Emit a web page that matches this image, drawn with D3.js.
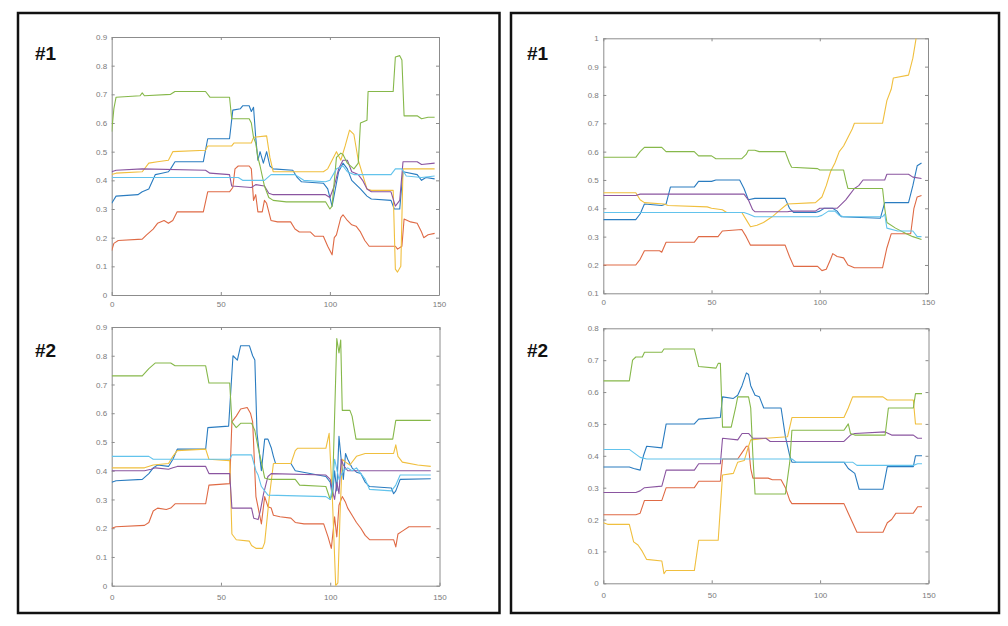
<!DOCTYPE html>
<html><head><meta charset="utf-8">
<script src="https://cdn.jsdelivr.net/npm/d3@7"></script>
<style>body{margin:0;background:#fff}svg{display:block}</style>
</head><body>
<svg id="c" width="1008" height="626"></svg>
<script>
// ---------- DATA (x = sample index, y = value) ----------
const xTicks = [0, 50, 100, 150];
const L1_yTicks = [0,0.1,0.2,0.3,0.4,0.5,0.6,0.7,0.8,0.9];
const L2_yTicks = [0,0.1,0.2,0.3,0.4,0.5,0.6,0.7,0.8,0.9];
const R1_yTicks = [0.1,0.2,0.3,0.4,0.5,0.6,0.7,0.8,0.9,1];
const R2_yTicks = [0,0.1,0.2,0.3,0.4,0.5,0.6,0.7,0.8];
const panelLabels = ["#1", "#2", "#1", "#2"];

// Left #1
const L1_blue = [[0,0.32],[2,0.345],[12,0.35],[14,0.36],[17,0.37],[20,0.42],[23,0.425],[26,0.43],[27,0.44],[29,0.465],[42,0.465],[44,0.545],[54,0.545],[55.5,0.645],[59,0.65],[60,0.66],[63,0.66],[64,0.64],[65,0.655],[66,0.55],[67,0.47],[68,0.5],[69.5,0.46],[71,0.5],[72.5,0.45],[74,0.44],[83,0.435],[85,0.41],[87,0.395],[97,0.39],[99,0.37],[101,0.31],[102,0.35],[104,0.43],[106,0.46],[108,0.44],[110,0.40],[114,0.37],[117,0.345],[119,0.335],[128,0.33],[129.5,0.30],[132,0.30],[133.5,0.43],[140,0.42],[142,0.40],[144,0.41],[148,0.405]];
const L1_red = [[0,0.155],[1,0.18],[3,0.19],[14,0.195],[16,0.21],[19,0.23],[21,0.25],[24,0.26],[26,0.25],[28,0.26],[30,0.29],[42,0.29],[44,0.36],[54,0.36],[55.5,0.375],[56.5,0.44],[58,0.45],[63,0.45],[64,0.44],[65,0.33],[66,0.35],[67,0.29],[69,0.29],[70,0.33],[71,0.32],[73,0.26],[76,0.255],[82,0.255],[84,0.23],[86,0.22],[91,0.22],[93,0.205],[97,0.205],[99,0.17],[101,0.14],[102,0.2],[103,0.21],[105,0.27],[106,0.28],[108,0.26],[110,0.245],[112,0.24],[114,0.22],[116,0.19],[118,0.17],[130,0.17],[131,0.16],[133,0.17],[134,0.265],[137,0.255],[140,0.25],[142,0.22],[143,0.2],[145,0.21],[148,0.215]];
const L1_yellow = [[0,0.42],[2,0.425],[14,0.43],[17,0.46],[21,0.465],[26,0.47],[28,0.5],[43,0.505],[44,0.52],[55,0.52],[56,0.53],[64,0.53],[65,0.55],[71,0.555],[72.5,0.48],[74,0.43],[97,0.43],[99,0.44],[101,0.47],[103,0.5],[105,0.47],[107,0.52],[109,0.575],[111,0.56],[113,0.47],[115,0.42],[117,0.37],[119,0.365],[129,0.365],[130,0.09],[131,0.08],[132.5,0.1],[133.5,0.44],[148,0.44]];
const L1_purple = [[0,0.43],[2,0.435],[14,0.44],[43,0.435],[45,0.425],[54,0.42],[55,0.38],[64,0.375],[66,0.385],[70,0.38],[72,0.355],[74,0.35],[98,0.35],[100,0.34],[102,0.38],[104,0.44],[106,0.47],[108,0.47],[110,0.43],[113,0.42],[115,0.40],[117,0.37],[119,0.36],[128,0.36],[130,0.31],[132,0.33],[133.5,0.465],[140,0.465],[142,0.455],[148,0.46]];
const L1_green = [[0,0.57],[1,0.65],[2,0.69],[13,0.695],[14,0.705],[15,0.695],[27,0.70],[29,0.71],[43,0.71],[45,0.69],[54,0.69],[55,0.615],[63,0.615],[64,0.60],[65,0.55],[66,0.53],[67,0.48],[68,0.45],[70,0.38],[72,0.34],[74,0.33],[80,0.325],[98,0.325],[100,0.30],[101,0.31],[103,0.48],[105,0.495],[106,0.49],[108,0.46],[111,0.44],[113,0.46],[114,0.60],[117,0.61],[117.5,0.71],[129,0.71],[130,0.83],[132,0.835],[133,0.82],[134,0.625],[140,0.625],[142,0.615],[145,0.62],[148,0.62]];
const L1_cyan = [[0,0.41],[58,0.41],[60,0.40],[70,0.40],[73,0.42],[84,0.42],[88,0.40],[98,0.395],[100,0.40],[103,0.44],[106,0.45],[108,0.43],[111,0.42],[128,0.42],[130,0.44],[133,0.44],[135,0.415],[142,0.41],[148,0.415]];

// Left #2
const L2_blue = [[0,0.36],[2,0.365],[14,0.37],[17,0.39],[19,0.41],[21,0.42],[26,0.415],[28,0.44],[30,0.475],[43,0.475],[44,0.55],[53.5,0.555],[55.5,0.80],[57.5,0.785],[59,0.835],[63,0.835],[64.5,0.80],[65.5,0.785],[66.5,0.53],[68.5,0.40],[70,0.51],[71.5,0.51],[73,0.48],[74,0.45],[75,0.425],[82,0.425],[84,0.40],[98,0.38],[100,0.36],[101,0.31],[102,0.40],[103,0.33],[104,0.52],[105,0.44],[106,0.37],[107,0.46],[108,0.44],[110,0.41],[112,0.395],[114,0.39],[116,0.36],[118,0.345],[128,0.34],[129,0.32],[130,0.33],[132,0.37],[146,0.372]];
const L2_red = [[0,0.20],[2,0.205],[15,0.21],[17,0.22],[19,0.26],[21,0.27],[25,0.265],[27,0.27],[29,0.285],[43,0.285],[44.5,0.35],[54,0.355],[55,0.57],[57,0.59],[59,0.615],[62,0.62],[63.5,0.60],[64.5,0.57],[66,0.31],[68.5,0.215],[70,0.31],[71.5,0.275],[73,0.27],[74,0.245],[77,0.24],[82,0.235],[84,0.22],[88,0.215],[97,0.215],[99,0.17],[100.5,0.13],[102,0.24],[103,0.17],[104,0.28],[105.5,0.31],[107,0.29],[108,0.27],[110,0.245],[112,0.22],[114,0.20],[116,0.175],[118,0.16],[129,0.16],[130,0.135],[131,0.18],[133,0.19],[136,0.205],[146,0.205]];
const L2_yellow = [[0,0.41],[15,0.41],[19,0.42],[26,0.425],[28,0.45],[30,0.47],[43,0.475],[44.5,0.44],[54,0.435],[55,0.18],[57,0.16],[63,0.155],[64,0.14],[66,0.13],[69,0.13],[70,0.15],[72,0.3],[74,0.425],[82,0.425],[84,0.47],[85,0.478],[98,0.478],[99.5,0.53],[101,0.3],[102.5,0.0],[103.5,0.01],[104.5,0.25],[105.5,0.44],[107,0.43],[109,0.42],[112,0.45],[116,0.46],[129,0.46],[130,0.49],[131,0.45],[133,0.43],[140,0.42],[146,0.415]];
const L2_purple = [[0,0.40],[15,0.40],[18,0.405],[20,0.41],[26,0.405],[28,0.41],[30,0.415],[43,0.415],[44.5,0.39],[54,0.39],[55,0.27],[64,0.27],[65,0.235],[67,0.23],[68,0.26],[69.5,0.32],[71.5,0.38],[73,0.39],[98,0.385],[100,0.37],[101,0.33],[102,0.30],[103,0.36],[104,0.32],[105,0.44],[106,0.42],[108,0.40],[112,0.40],[146,0.40]];
const L2_green = [[0,0.73],[14,0.73],[17,0.755],[20,0.775],[27,0.775],[29,0.765],[43,0.765],[44.5,0.705],[54,0.705],[55,0.57],[57,0.55],[59,0.565],[64,0.565],[65.5,0.54],[67,0.48],[68.5,0.43],[70,0.375],[72,0.37],[84,0.37],[86,0.35],[98,0.345],[100,0.30],[101,0.32],[103,0.86],[104,0.81],[104.8,0.855],[105.5,0.61],[109,0.61],[110,0.59],[111.8,0.51],[128.6,0.51],[130,0.575],[146,0.575]];
const L2_cyan = [[0,0.45],[17,0.45],[19,0.44],[54,0.44],[55,0.455],[64,0.455],[66,0.40],[67,0.385],[68.5,0.345],[71.5,0.315],[98,0.31],[100,0.30],[101,0.34],[102,0.44],[104,0.37],[106,0.40],[108,0.41],[110,0.40],[112,0.41],[114,0.39],[116,0.37],[118,0.335],[128,0.33],[130,0.35],[132,0.385],[146,0.385]];

// Right #1
const R1_blue = [[0,0.36],[15,0.36],[17,0.38],[19,0.415],[27,0.41],[29,0.415],[31,0.475],[42,0.475],[44,0.495],[50,0.495],[52,0.50],[63,0.50],[65,0.47],[67,0.43],[70,0.435],[84,0.435],[86,0.40],[88,0.385],[98,0.385],[100,0.39],[102,0.40],[106,0.40],[108,0.39],[110,0.37],[128,0.365],[130,0.42],[141,0.42],[143,0.48],[145,0.55],[147,0.56]];
const R1_red = [[0,0.20],[15,0.20],[17,0.22],[19,0.25],[26,0.25],[27,0.245],[29,0.28],[42,0.28],[44,0.30],[53,0.30],[55,0.32],[64,0.325],[66,0.30],[68,0.27],[84,0.27],[86,0.23],[88,0.195],[99,0.195],[101,0.18],[103,0.185],[105,0.22],[106,0.24],[108,0.23],[111,0.225],[113,0.20],[116,0.19],[129,0.19],[131,0.26],[133,0.31],[142,0.31],[143.5,0.40],[145,0.44],[147,0.445]];
const R1_yellow = [[0,0.455],[15,0.455],[17,0.43],[19,0.42],[28,0.415],[30,0.41],[48,0.405],[50,0.40],[55,0.395],[57,0.385],[64,0.385],[66,0.36],[68,0.335],[71,0.34],[74,0.35],[78,0.37],[81,0.39],[85,0.415],[98,0.42],[101,0.44],[103,0.48],[105,0.53],[107,0.56],[109,0.60],[111,0.62],[113,0.65],[115,0.68],[116,0.70],[129,0.70],[131,0.78],[133,0.82],[134,0.86],[141,0.87],[143,0.93],[144.5,1.0]];
const R1_purple = [[0,0.445],[15,0.445],[17,0.45],[65,0.45],[67,0.43],[69,0.395],[70,0.388],[85,0.388],[87,0.39],[98,0.39],[100,0.40],[108,0.40],[110,0.415],[112,0.43],[114,0.45],[116,0.47],[118,0.48],[120,0.50],[130,0.50],[131,0.52],[141,0.52],[143,0.51],[147,0.505]];
const R1_green = [[0,0.58],[15,0.58],[17,0.60],[19,0.615],[27,0.615],[29,0.60],[42,0.60],[44,0.585],[50,0.585],[52,0.575],[64,0.575],[66,0.59],[67,0.605],[70,0.605],[72,0.60],[84,0.60],[86,0.56],[87,0.545],[99,0.54],[100,0.535],[111,0.535],[112,0.50],[113,0.47],[129,0.47],[130,0.40],[131,0.35],[135,0.33],[140,0.31],[143,0.30],[147,0.29]];
const R1_cyan = [[0,0.385],[65,0.385],[67,0.38],[70,0.37],[99,0.37],[101,0.375],[104,0.39],[107,0.39],[109,0.375],[111,0.37],[129,0.37],[130,0.38],[131,0.33],[136,0.32],[143,0.32],[145,0.30],[147,0.30]];

// Right #2
const R2_blue = [[0,0.365],[12,0.365],[14,0.36],[17,0.355],[18.5,0.40],[20,0.43],[27,0.425],[29,0.50],[42,0.50],[44,0.515],[54,0.52],[55,0.585],[60,0.58],[62,0.59],[64,0.62],[66,0.66],[67,0.655],[68,0.62],[70,0.59],[72,0.585],[74,0.55],[82,0.55],[84,0.46],[86,0.40],[87,0.38],[111,0.38],[113,0.36],[116,0.345],[118,0.295],[129,0.295],[131,0.366],[143,0.366],[144,0.40],[147,0.40]];
const R2_red = [[0,0.215],[15,0.215],[17,0.22],[19,0.26],[27,0.26],[29,0.30],[42,0.30],[44,0.32],[54,0.32],[55,0.39],[62,0.39],[64,0.41],[66,0.43],[67,0.43],[68,0.36],[69,0.33],[76,0.33],[78,0.325],[82,0.325],[84,0.30],[86,0.26],[87,0.25],[111,0.25],[113,0.22],[115,0.19],[117,0.16],[129,0.16],[131,0.19],[133,0.20],[135,0.22],[143,0.22],[145,0.24],[147,0.24]];
const R2_yellow = [[0,0.19],[2,0.185],[12,0.185],[14,0.13],[16,0.12],[18,0.10],[20,0.075],[27,0.07],[28,0.03],[29,0.04],[42,0.04],[44,0.135],[53,0.135],[55,0.34],[60,0.345],[62,0.38],[65,0.385],[67,0.43],[68,0.45],[75,0.455],[85,0.46],[87,0.52],[111,0.52],[113,0.55],[115,0.585],[129,0.585],[131,0.575],[143,0.575],[144,0.50],[147,0.50]];
const R2_purple = [[0,0.285],[15,0.285],[17,0.29],[19,0.30],[27,0.305],[29,0.355],[42,0.355],[44,0.375],[54,0.375],[55,0.455],[62,0.45],[64,0.47],[67,0.47],[69,0.455],[75,0.455],[77,0.445],[111,0.445],[114,0.465],[116,0.47],[130,0.475],[133,0.465],[143,0.465],[145,0.455],[147,0.455]];
const R2_green = [[0,0.635],[12,0.635],[13.5,0.70],[15,0.71],[18,0.71],[19,0.725],[27,0.725],[28,0.735],[42,0.735],[44,0.68],[52,0.675],[53,0.69],[54,0.69],[55,0.49],[59,0.49],[61,0.55],[62,0.585],[67,0.585],[68,0.55],[69,0.40],[70,0.28],[84,0.28],[86,0.38],[87,0.48],[111,0.48],[112,0.49],[113,0.50],[114,0.47],[116,0.465],[130,0.465],[131.5,0.55],[143,0.55],[144,0.595],[147,0.595]];
const R2_cyan = [[0,0.42],[12,0.42],[14,0.41],[17,0.395],[20,0.39],[70,0.39],[87,0.39],[89,0.38],[115,0.38],[117,0.37],[143,0.37],[145,0.375],[147,0.375]];

// ---------- STYLE / LAYOUT ----------
const seriesColors = ["#2a7cc0", "#df6a45", "#f0bf3e", "#8a55a0", "#86b84a", "#62c3ec"];
const svg = d3.select("#c");

// frames
[[18, 13, 481.5, 600], [511, 13, 488, 600]].forEach(f => {
  svg.append("rect").attr("x", f[0]).attr("y", f[1]).attr("width", f[2]).attr("height", f[3])
    .attr("fill", "none").attr("stroke", "#111").attr("stroke-width", 2.5);
});

const panels = [
  {x0:111.7, x1:439, yTop:37, yBot:295, yDomain:[0,0.9], yTicks:L1_yTicks, xPad:6,
   series:[L1_blue,L1_red,L1_yellow,L1_purple,L1_green,L1_cyan], lx:35, ly:60},
  {x0:111.7, x1:439.5, yTop:327, yBot:585.7, yDomain:[0,0.9], yTicks:L2_yTicks, xPad:9,
   series:[L2_blue,L2_red,L2_yellow,L2_purple,L2_green,L2_cyan], lx:35, ly:357},
  {x0:603.3, x1:928, yTop:38.3, yBot:293.3, yDomain:[0.1,1], yTicks:R1_yTicks, xPad:6,
   series:[R1_blue,R1_red,R1_yellow,R1_purple,R1_green,R1_cyan], lx:527, ly:60},
  {x0:603.3, x1:928.5, yTop:328.3, yBot:583.3, yDomain:[0,0.8], yTicks:R2_yTicks, xPad:9,
   series:[R2_blue,R2_red,R2_yellow,R2_purple,R2_green,R2_cyan], lx:527, ly:357}
];

const fmt = d3.format("~g");
panels.forEach((p, i) => {
  const x = d3.scaleLinear().domain([0, 150]).range([p.x0, p.x1]);
  const y = d3.scaleLinear().domain(p.yDomain).range([p.yBot, p.yTop]);
  const g = svg.append("g");

  g.append("clipPath").attr("id", "clip" + i).append("rect")
    .attr("x", p.x0).attr("y", p.yTop).attr("width", p.x1 - p.x0).attr("height", p.yBot - p.yTop);

  const styleAxis = sel => {
    sel.select(".domain").attr("stroke", "#8c8c8c").attr("stroke-width", 1);
    sel.selectAll(".tick line").attr("stroke", "#8c8c8c");
    sel.selectAll("text").attr("fill", "#7a7a7a").attr("font-size", 8)
      .attr("font-family", "Liberation Sans, Arial, sans-serif");
  };

  g.append("g").attr("transform", `translate(0,${p.yBot})`)
    .call(d3.axisBottom(x).tickValues(xTicks).tickSize(-3).tickSizeOuter(0).tickPadding(p.xPad).tickFormat(fmt))
    .call(styleAxis).call(s => s.attr("font-family", null));
  g.append("g").attr("transform", `translate(0,${p.yTop})`)
    .call(d3.axisTop(x).tickValues(xTicks).tickSize(-3).tickSizeOuter(0).tickFormat(""))
    .call(styleAxis);
  g.append("g").attr("transform", `translate(${p.x0},0)`)
    .call(d3.axisLeft(y).tickValues(p.yTicks).tickSize(-3).tickSizeOuter(0).tickPadding(4.5).tickFormat(fmt))
    .call(styleAxis);
  g.append("g").attr("transform", `translate(${p.x1},0)`)
    .call(d3.axisRight(y).tickValues(p.yTicks).tickSize(-3).tickSizeOuter(0).tickFormat(""))
    .call(styleAxis);

  const line = d3.line().x(d => x(d[0])).y(d => y(d[1]));
  const lg = g.append("g").attr("clip-path", `url(#clip${i})`);
  p.series.forEach((s, k) => {
    lg.append("path").attr("d", line(s)).attr("fill", "none")
      .attr("stroke", seriesColors[k]).attr("stroke-width", 1.1)
      .attr("stroke-linejoin", "round");
  });

  svg.append("text").attr("x", p.lx).attr("y", p.ly).text(panelLabels[i])
    .attr("font-family", "Liberation Sans, Arial, sans-serif").attr("font-weight", "bold")
    .attr("font-size", 19).attr("fill", "#111");
});
</script>
</body></html>
